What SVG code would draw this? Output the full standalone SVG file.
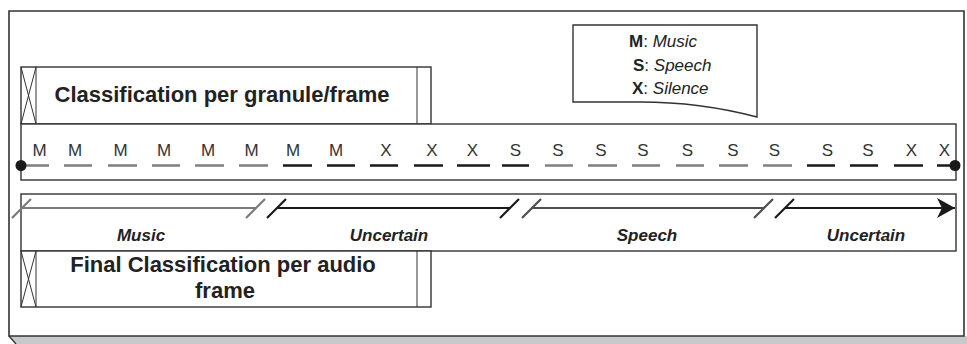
<svg xmlns="http://www.w3.org/2000/svg" width="967" height="344" viewBox="0 0 967 344">
<style>
.box{fill:#fff;stroke:#333;stroke-width:1.4}
.thin{fill:none;stroke:#333;stroke-width:1}
.lt{font-family:"Liberation Sans",Arial,sans-serif;font-size:17px;fill:#333;text-anchor:middle}
.title{font-family:"Liberation Sans",Arial,sans-serif;font-size:22px;font-weight:bold;fill:#222;text-anchor:middle}
.lab{font-family:"Liberation Sans",Arial,sans-serif;font-size:17px;font-weight:bold;font-style:italic;fill:#222;text-anchor:middle}
.leg{font-family:"Liberation Sans",Arial,sans-serif;font-size:17px;fill:#222}
.dg{stroke:#808080;stroke-width:2.6}
.db{stroke:#1a1a1a;stroke-width:2.6}
.sg{stroke:#7a7a7a;stroke-width:2.2;fill:none}
.sd{stroke:#4d4d4d;stroke-width:2.2;fill:none}
.sb{stroke:#1a1a1a;stroke-width:2.2;fill:none}
</style>
<defs>
<marker id="arr" viewBox="0 0 20 20" refX="18" refY="10" markerWidth="20" markerHeight="20" markerUnits="userSpaceOnUse" orient="auto">
<path d="M0,0 L18,10 L0,20 L5,10 Z" fill="#1a1a1a"/>
</marker>
</defs>
<rect width="967" height="344" fill="#fff"/>
<g id="frame">
<path d="M9,336 L16,344 L967,344 L967,336 Z" fill="#c8c9cb"/>
<path d="M9,336 L16,344" stroke="#333" stroke-width="1.4" fill="none"/>
<path d="M9,336 L9,11 L964,11 L964,336 Z" fill="none" stroke="#333" stroke-width="1.6"/>
</g>
<g id="legend">
<path d="M573,25 H757 V117 Q700,102 640,102 H573 Z" class="box"/>
<text class="leg" x="629" y="47"><tspan font-weight="bold">M</tspan>: <tspan font-style="italic">Music</tspan></text>
<text class="leg" x="633" y="70.5"><tspan font-weight="bold">S</tspan>: <tspan font-style="italic">Speech</tspan></text>
<text class="leg" x="632" y="94"><tspan font-weight="bold">X</tspan>: <tspan font-style="italic">Silence</tspan></text>
</g>
<g id="granule-title">
<rect class="box" x="21" y="67" width="410" height="57"/>
<path class="thin" d="M36,67 V124 M417,67 V124 M21,67 L36,124 M36,67 L21,124"/>
<text class="title" x="222" y="102">Classification per granule/frame</text>
</g>
<g id="granule-band">
<rect class="box" x="21" y="124" width="935" height="56"/>
<text class="lt" y="156">
<tspan x="39.5">M</tspan><tspan x="75">M</tspan><tspan x="120.5">M</tspan><tspan x="164">M</tspan><tspan x="208">M</tspan><tspan x="251.5">M</tspan><tspan x="293">M</tspan><tspan x="336">M</tspan><tspan x="386">X</tspan><tspan x="432">X</tspan><tspan x="472.5">X</tspan><tspan x="515.5">S</tspan><tspan x="558">S</tspan><tspan x="601">S</tspan><tspan x="643">S</tspan><tspan x="687.5">S</tspan><tspan x="733">S</tspan><tspan x="774.5">S</tspan><tspan x="827.5">S</tspan><tspan x="868">S</tspan><tspan x="911.5">X</tspan><tspan x="944.5">X</tspan>
</text>
</g>
<g id="final-band">
<rect class="box" x="21" y="194" width="935" height="57"/>
<text class="lab" x="141" y="241">Music</text>
<text class="lab" x="389" y="241">Uncertain</text>
<text class="lab" x="647" y="241">Speech</text>
<text class="lab" x="866" y="241">Uncertain</text>
</g>
<g id="final-title">
<rect class="box" x="21" y="251" width="410" height="56"/>
<path class="thin" d="M36,251 V307 M417,251 V307 M21,251 L36,307 M36,251 L21,307"/>
<text class="title" x="223" y="272">Final Classification per audio</text>
<text class="title" x="225" y="298">frame</text>
</g>
<g id="connectors">
<g fill="none">
<path class="dg" d="M21,165.5 H49 M64,165.5 H92 M108,165.5 H137 M152,165.5 H180 M195,165.5 H224 M239,165.5 H268"/>
<path class="db" d="M283,165.5 H312 M327,165.5 H355 M370,165.5 H398 M414,165.5 H443 M457,165.5 H490 M502,165.5 H529"/>
<path class="dg" d="M545,165.5 H573 M588,165.5 H617 M632,165.5 H660 M676,165.5 H704 M719,165.5 H748 M763,165.5 H792"/>
<path class="db" d="M807,165.5 H835 M850,165.5 H878 M894,165.5 H923 M937,165.5 H955"/>
</g>
<circle cx="21" cy="165.5" r="5.5" fill="#1a1a1a"/>
<circle cx="955" cy="165.5" r="5.5" fill="#1a1a1a"/>
<path class="sg" d="M21,208 H256 M12,218 L31,199 M246,218 L265,199"/>
<path class="sb" d="M277,208 H510 M267,218 L286,199 M500,218 L519,199"/>
<path class="sd" d="M531,208 H764 M522,218 L541,199 M754,218 L773,199"/>
<path class="sb" d="M775,218 L794,199"/>
<path class="sb" d="M785,208 H955" marker-end="url(#arr)"/>
</g>
</svg>
